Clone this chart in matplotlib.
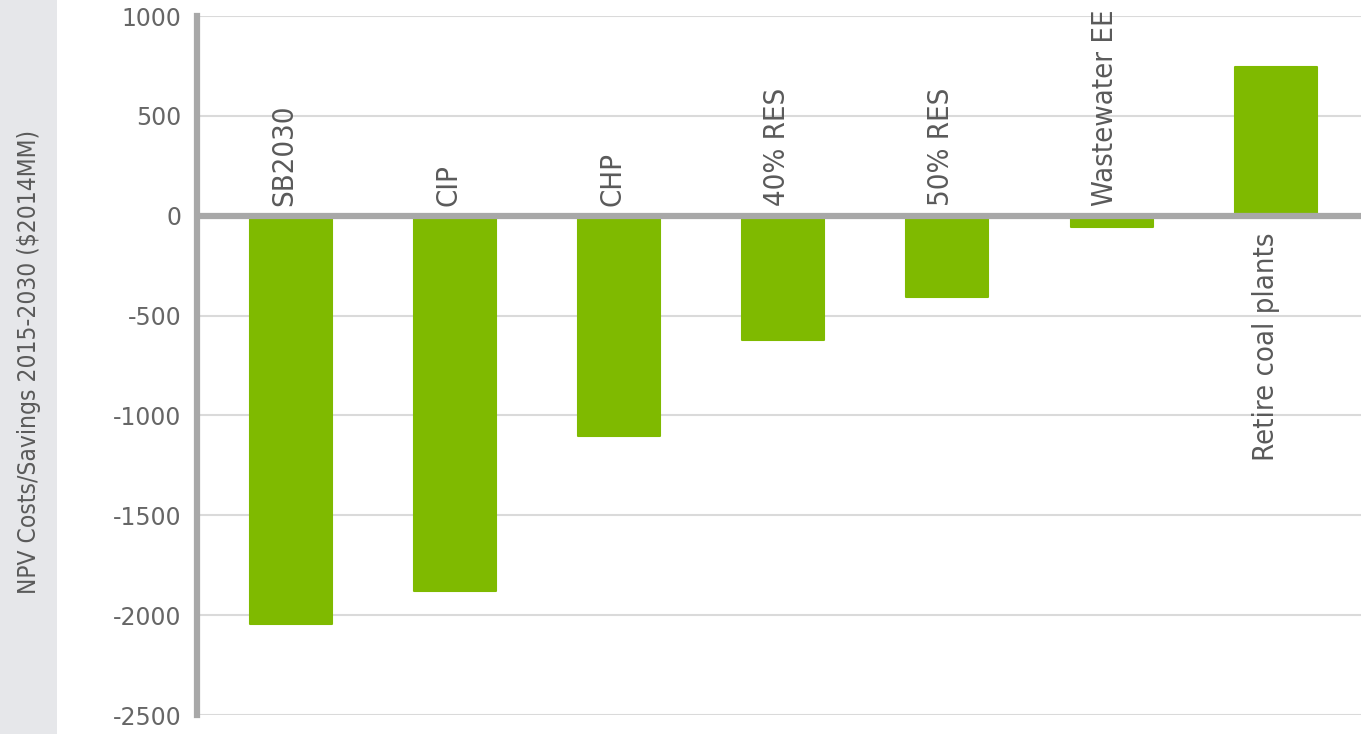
import matplotlib
matplotlib.use("Agg")
import matplotlib.pyplot as plt
from matplotlib.patches import Rectangle

# dane
categories = ["SB2030", "CIP", "CHP", "40% RES", "50% RES", "Wastewater EE", "Retire coal plants"]
npv_values = [-2045, -1880, -1105, -620, -405, -55, 745]
y_ticks = [1000, 500, 0, -500, -1000, -1500, -2000, -2500]
y_title = "NPV Costs/Savings 2015-2030 ($2014MM)"

green = "#7fba00"
axis_grey = "#a8a8a8"
grid_grey = "#dadada"
text_grey = "#5a5a5a"

fig = plt.figure(figsize=(13.61, 7.34), dpi=100)
ax = fig.add_axes([197 / 1361, 19 / 734, 1 - 197 / 1361, (715 - 16) / 734])

# szary pasek z lewej strony
fig.patches.append(Rectangle((0, 0), 57 / 1361, 1, transform=fig.transFigure,
                             facecolor="#e6e7ea", edgecolor="none", zorder=0))
fig.text(29 / 1361, 0.507, y_title, rotation=90, ha="center", va="center",
         fontsize=17.6, color=text_grey, fontstretch="condensed")

x = list(range(len(categories)))
bars = ax.bar(x, npv_values, width=0.5, color=green, edgecolor=green,
              linewidth=1.5, zorder=2)
for b in bars:
    b.set_joinstyle("round")

ax.axhline(0, color=axis_grey, lw=4.5, zorder=3)

# etykiety kategorii - pionowo
for xi, name, v in zip(x, categories, npv_values):
    if v < 0:
        ax.text(xi - 0.04, 50, name, rotation=90, ha="center", va="bottom",
                fontsize=21, color=text_grey, fontstretch="condensed",
                clip_on=False, zorder=4)
    else:
        ax.text(xi - 0.06, -85, name, rotation=90, ha="center", va="top",
                fontsize=21, color=text_grey, fontstretch="condensed",
                clip_on=False, zorder=4)

ax.set_xlim(-0.573, 6.52)
ax.set_ylim(-2500, 1000)
ax.set_yticks(y_ticks)
ax.set_yticklabels([str(t) for t in y_ticks])
ax.set_xticks([])
ax.tick_params(axis="y", length=0, pad=11, labelsize=17, labelcolor="#666666")
ax.yaxis.grid(True, color=grid_grey, lw=1.5, zorder=0)
ax.set_axisbelow(True)

for s in ["top", "right", "bottom"]:
    ax.spines[s].set_visible(False)
ax.spines["left"].set_color(axis_grey)
ax.spines["left"].set_linewidth(4.5)

fig.savefig("out.png", dpi=100)
